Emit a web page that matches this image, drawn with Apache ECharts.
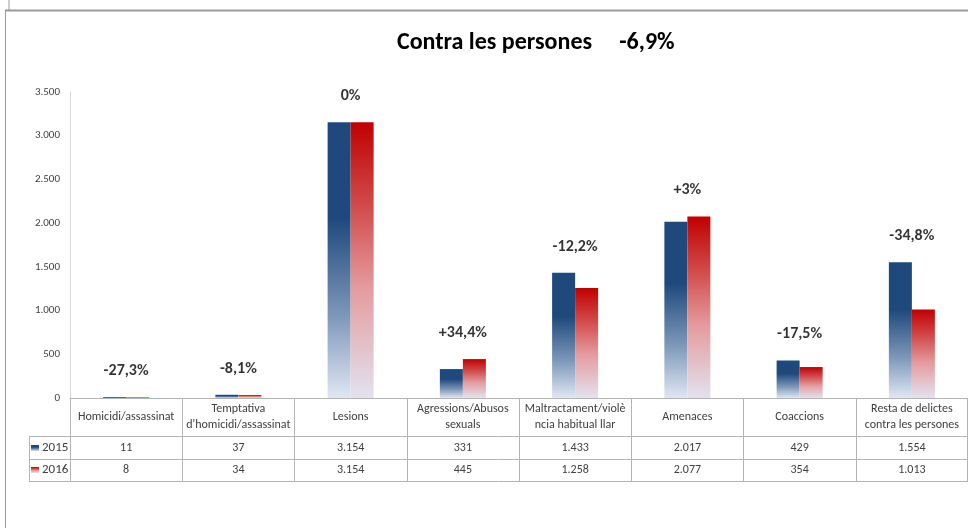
<!DOCTYPE html>
<html>
<head>
<meta charset="utf-8">
<script src="https://cdn.jsdelivr.net/npm/echarts@6/dist/echarts.min.js"></script>
<style>
    html, body { margin: 0; padding: 0; background: #fff; }
    #chart { width: 968px; height: 528px; }
</style>
</head>
<body>
<div id="chart"></div>
<script>
// dades
var categories = ['Homicidi/assassinat', "Temptativa\nd'homicidi/assassinat", 'Lesions', 'Agressions/Abusos\nsexuals',
    'Maltractament/violè\nncia habitual llar', 'Amenaces', 'Coaccions', 'Resta de delictes\ncontra les persones'];
var values2015 = [11, 37, 3154, 331, 1433, 2017, 429, 1554];
var values2016 = [8, 34, 3154, 445, 1258, 2077, 354, 1013];
var changeLabels = ['-27,3%', '-8,1%', '0%', '+34,4%', '-12,2%', '+3%', '-17,5%', '-34,8%'];
var seriesNames = ['2015', '2016'];
var titleText = 'Contra les persones';
var titleChange = '-6,9%';

var FONT = "Carlito, 'Liberation Sans Narrow', 'DejaVu Sans Condensed', sans-serif";
var GRID_LEFT = 70, GRID_TOP = 92, AXIS_Y = 398;
var LINE = '#b4b4b4';

function fmt(n) {
    return String(n).replace(/\B(?=(\d{3})+(?!\d))/g, '.');
}

var chart = echarts.init(document.getElementById('chart'));

var blueGrad = new echarts.graphic.LinearGradient(0, 0, 0, 1, [
    {offset: 0, color: '#1f497d'},
    {offset: 0.35, color: '#1f497d'},
    {offset: 0.7, color: '#7d97b9'},
    {offset: 1, color: '#dfe7f3'}
]);
var redGrad = new echarts.graphic.LinearGradient(0, 0, 0, 1, [
    {offset: 0, color: '#c00000'},
    {offset: 0.3, color: '#d24a4a'},
    {offset: 0.6, color: '#e49b9e'},
    {offset: 1, color: '#e3e2ef'}
]);

var maxPerCat = values2015.map(function (v, i) { return Math.max(v, values2016[i]); });

var option = {
    animation: false,
    textStyle: {fontFamily: FONT},
    title: {
        text: titleText + '     ' + titleChange,
        left: 397,
        top: 31,
        padding: 0,
        textStyle: {fontFamily: FONT, fontSize: 24, fontWeight: 'bold', color: '#000'}
    },
    legend: {
        data: seriesNames,
        orient: 'vertical',
        left: 31,
        top: 441,
        padding: 0,
        itemWidth: 8,
        itemHeight: 6,
        itemGap: 8,
        icon: 'rect',
        textStyle: {fontFamily: FONT, fontSize: 13, color: '#404040', lineHeight: 14, padding: [0, 0, 0, -2]}
    },
    grid: {left: GRID_LEFT, right: 0, top: GRID_TOP, bottom: 528 - AXIS_Y},
    xAxis: [
        {
            type: 'category',
            data: categories,
            axisLine: {lineStyle: {color: LINE}},
            axisTick: {show: true, length: 83, interval: 0, lineStyle: {color: LINE}},
            axisLabel: {
                interval: 0, margin: 19, verticalAlign: 'middle',
                fontFamily: FONT, fontSize: 12, lineHeight: 16, color: '#404040'
            }
        },
        {
            type: 'category',
            position: 'bottom',
            data: categories,
            axisLine: {show: false},
            axisTick: {show: false},
            axisLabel: {
                interval: 0, margin: 50, verticalAlign: 'middle',
                fontFamily: FONT, fontSize: 12, color: '#404040',
                formatter: function (v, i) { return fmt(values2015[i]); }
            }
        },
        {
            type: 'category',
            position: 'bottom',
            data: categories,
            axisLine: {show: false},
            axisTick: {show: false},
            axisLabel: {
                interval: 0, margin: 72, verticalAlign: 'middle',
                fontFamily: FONT, fontSize: 12, color: '#404040',
                formatter: function (v, i) { return fmt(values2016[i]); }
            }
        }
    ],
    yAxis: {
        type: 'value',
        min: 0,
        max: 3500,
        interval: 500,
        splitLine: {show: false},
        axisLine: {show: true, lineStyle: {color: '#d9d9d9'}},
        axisTick: {show: false},
        axisLabel: {
            margin: 10, fontFamily: FONT, fontSize: 11, color: '#404040',
            formatter: function (v) { return fmt(v); }
        }
    },
    series: [
        {
            name: seriesNames[0],
            type: 'bar',
            data: values2015,
            barGap: '0%',
            barCategoryGap: '59%',
            itemStyle: {color: blueGrad}
        },
        {
            name: seriesNames[1],
            type: 'bar',
            data: values2016,
            itemStyle: {color: redGrad}
        },
        {
            name: 'canvi',
            type: 'scatter',
            data: maxPerCat,
            symbolSize: 0,
            silent: true,
            label: {
                show: true,
                position: 'top',
                distance: 18,
                fontFamily: FONT,
                fontSize: 16,
                fontWeight: 'bold',
                color: '#000',
                formatter: function (p) { return changeLabels[p.dataIndex]; }
            }
        }
    ],
    graphic: [
        // marc exterior
        {type: 'line', shape: {x1: 9, y1: 0, x2: 9, y2: 10}, style: {stroke: '#9a9a9a', lineWidth: 1}},
        {type: 'line', shape: {x1: 5, y1: 10.5, x2: 968, y2: 10.5}, style: {stroke: '#9a9a9a', lineWidth: 2}},
        {type: 'line', shape: {x1: 5.5, y1: 10, x2: 5.5, y2: 528}, style: {stroke: '#9a9a9a', lineWidth: 1}},
        // taula de dades
        {type: 'line', shape: {x1: 29, y1: 436.5, x2: 968, y2: 436.5}, style: {stroke: LINE, lineWidth: 1}},
        {type: 'line', shape: {x1: 29, y1: 459.5, x2: 968, y2: 459.5}, style: {stroke: LINE, lineWidth: 1}},
        {type: 'line', shape: {x1: 29, y1: 481.5, x2: 968, y2: 481.5}, style: {stroke: LINE, lineWidth: 1}},
        {type: 'line', shape: {x1: 29.5, y1: 436, x2: 29.5, y2: 482}, style: {stroke: LINE, lineWidth: 1}},
        {type: 'line', shape: {x1: 967.5, y1: 398, x2: 967.5, y2: 482}, style: {stroke: LINE, lineWidth: 1}}
    ]
};

chart.setOption(option);
</script>
</body>
</html>
